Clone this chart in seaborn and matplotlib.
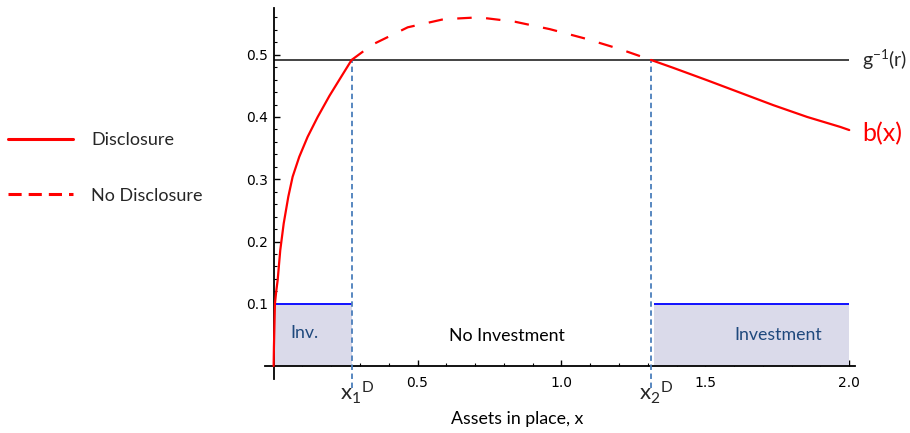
import numpy as np
import pandas as pd
import matplotlib
matplotlib.use('Agg')
import matplotlib.pyplot as plt
import seaborn as sns

# curve b(x), split into the three regimes
left_x = [0.0, 0.001, 0.003, 0.0045, 0.009, 0.014, 0.023, 0.035, 0.051, 0.066,
          0.089, 0.118, 0.153, 0.194, 0.234, 0.271]
left_y = [0.0, 0.03, 0.07, 0.100, 0.120, 0.138, 0.186, 0.229, 0.272, 0.304,
          0.336, 0.368, 0.400, 0.434, 0.464, 0.4916]
mid_x = [0.271, 0.328, 0.351, 0.466, 0.591, 0.713, 0.838, 0.960, 1.082, 1.203, 1.311]
mid_y = [0.4916, 0.511, 0.518, 0.544, 0.557, 0.560, 0.553, 0.541, 0.526, 0.509, 0.4916]
right_x = [1.311, 1.388, 1.506, 1.621, 1.736, 1.854, 1.969, 2.0]
right_y = [0.4916, 0.479, 0.459, 0.439, 0.419, 0.400, 0.384, 0.379]

g_level = 0.4916          # g^-1(r)
thresholds = [0.271, 1.311]   # x1^D, x2^D
inv_level = 0.1
x_end = 2.0

y_major = [0.1, 0.2, 0.3, 0.4, 0.5]
y_labels = ['0.1', '0.2', '0.3', '0.4', '0.5']
x_major = [0.5, 1.0, 1.5, 2.0]
x_labels = ['0.5', '1.0', '1.5', '2.0']

df = pd.concat([
    pd.DataFrame({'x': left_x, 'y': left_y, 'regime': 'Disclosure', 'piece': 0}),
    pd.DataFrame({'x': mid_x, 'y': mid_y, 'regime': 'No Disclosure', 'piece': 1}),
    pd.DataFrame({'x': right_x, 'y': right_y, 'regime': 'Disclosure', 'piece': 2}),
], ignore_index=True)

sns.set_theme(style='white')
plt.rcParams['font.family'] = ['Lato', 'DejaVu Sans']
plt.rcParams['mathtext.fontset'] = 'custom'
plt.rcParams['mathtext.rm'] = 'Lato'

fig = plt.figure(figsize=(9.1, 4.33), dpi=100)
ax = fig.add_axes([265 / 910, 1 - 378.5 / 433, 590 / 910, 370.5 / 433])

x1, x2 = thresholds
# investment regions
ax.fill_between([0.0, x1], 0, inv_level, color='#dadaea', lw=0, zorder=1)
ax.fill_between([x2 + 0.012, x_end], 0, inv_level, color='#dadaea', lw=0, zorder=1)
ax.hlines([inv_level, inv_level], [0.007, x2 + 0.012], [x1, x_end], colors='#1010ff', lw=1.4, zorder=2)

ax.hlines(g_level, 0, x_end, colors='#222222', lw=1.2, zorder=2)
ax.vlines(thresholds, -0.035, g_level, colors='#4a7ebb', lw=1.3,
          linestyles=(0, (3, 2)), clip_on=False, zorder=3)

sns.lineplot(data=df, x='x', y='y', style='regime', units='piece', estimator=None,
             style_order=['Disclosure', 'No Disclosure'],
             dashes={'Disclosure': '', 'No Disclosure': (6.5, 6.5)},
             color='red', linewidth=1.6, sort=False, ax=ax, zorder=4)

h, l = ax.get_legend_handles_labels()
ax.get_legend().remove()
keep = [(hh, ll) for hh, ll in zip(h, l) if ll in ('Disclosure', 'No Disclosure')]
leg = fig.legend([k[0] for k in keep], [k[1] for k in keep], loc='upper left',
                 bbox_to_anchor=(8 / 910, 1 - 132 / 433), frameon=False, fontsize=13,
                 borderpad=0, borderaxespad=0, handlelength=3.6, handletextpad=1.0,
                 labelspacing=2.2)
for ln in leg.get_lines():
    ln.set_linewidth(2.2)
leg.get_lines()[1].set_linestyle((0, (4.3, 2.3)))

ax.set_xlim(-0.03, 2.02)
ax.set_ylim(-0.02, 0.575)
for s in ['top', 'right']:
    ax.spines[s].set_visible(False)
ax.spines['left'].set_position(('data', 0))
ax.spines['bottom'].set_position(('data', 0))
for s in ['left', 'bottom']:
    ax.spines[s].set_color('black')
    ax.spines[s].set_linewidth(1.3)

ax.set_xticks(x_major)
ax.set_xticklabels(x_labels)
ax.set_yticks(y_major)
ax.set_yticklabels(y_labels)
ax.set_xticks(np.arange(0.1, 2.0, 0.1), minor=True)
ax.set_yticks(np.arange(0.02, 0.57, 0.02), minor=True)
ax.tick_params(which='major', direction='in', length=4.5, width=1, colors='black',
               labelsize=10, labelfontfamily='DejaVu Sans', labelcolor='black')
ax.tick_params(which='minor', direction='in', length=2.5, width=0.8, colors='black')
ax.tick_params(axis='x', which='major', pad=7)
ax.tick_params(axis='y', which='major', pad=4)
ax.tick_params(axis='both', which='both', left=True, bottom=True)

ax.set_xlabel('Assets in place, x', fontsize=12.8, color='black')
ax.xaxis.set_label_coords(0.427, -0.088)
ax.set_ylabel('')

# annotations
ax.text(0.108, 0.053, 'Inv.', color='#1f497d', fontsize=12.8, ha='center', va='center')
ax.text(0.811, 0.049, 'No Investment', color='black', fontsize=12.8, ha='center', va='center')
ax.text(1.753, 0.050, 'Investment', color='#1f497d', fontsize=12.8, ha='center', va='center')
ax.text(x1 - 0.042, -0.055, r'$\mathregular{x_1{}^D}$', fontsize=16, ha='left', va='baseline')
ax.text(x2 - 0.042, -0.055, r'$\mathregular{x_2{}^D}$', fontsize=16, ha='left', va='baseline')
ax.text(2.045, g_level, r'$\mathregular{g^{-1}(r)}$', fontsize=14, ha='left', va='center')
ax.text(2.045, 0.374, 'b(x)', fontsize=18, color='red', ha='left', va='center')

fig.savefig('out.png', dpi=100)
